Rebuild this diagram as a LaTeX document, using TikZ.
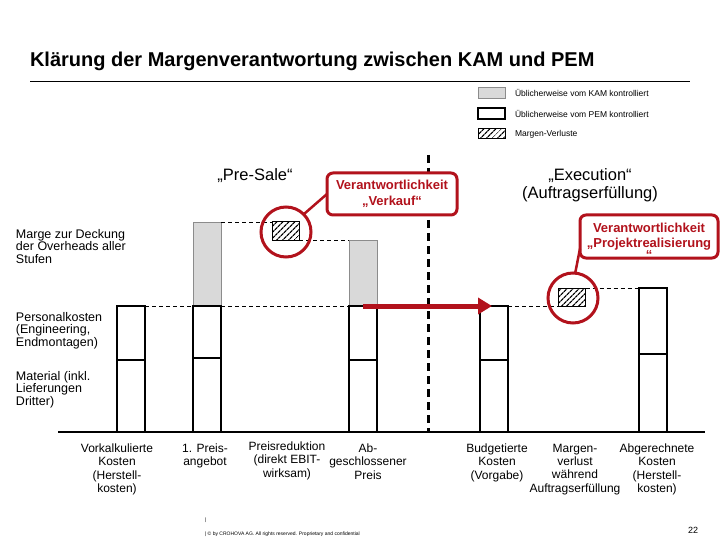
\documentclass[tikz,border=0pt]{standalone}
\usepackage{fontspec}
\setmainfont{Liberation Sans}
\usetikzlibrary{arrows.meta, patterns.meta, positioning}
\definecolor{VRed}{RGB}{178, 18, 28}
\definecolor{KAMGray}{RGB}{217, 217, 217}
\definecolor{KAMEdge}{RGB}{140, 140, 140}
\newcommand{\fsz}[2]{\fontsize{#1}{#2}\selectfont}

\begin{document}
\begin{tikzpicture}[
  x=1pt, y=-1pt,
  every node/.style={inner sep=0pt, outer sep=0pt, font=\fsz{12}{13.3}},
  pembar/.style={draw=black, line width=1.1pt, fill=white, minimum width=28pt, anchor=south west},
  kambar/.style={draw=KAMEdge, line width=0.8pt, fill=KAMGray, minimum width=28pt, anchor=south west},
  lossbox/.style={draw=black, line width=1pt, minimum width=27pt, minimum height=18pt,
                  pattern={Lines[angle=45, distance=4pt, line width=1.3pt]}},
  ring/.style={circle, draw=VRed, line width=3pt, minimum size=50pt},
  callout/.style={draw=VRed, line width=3pt, rounded corners=6pt, fill=white, text=VRed,
                  align=center, font=\fsz{13}{15.5}\bfseries},
  lbl/.style={align=center, anchor=north},
  side/.style={align=left, anchor=north west, font=\fsz{12.5}{12.8}},
  phase/.style={align=center, font=\fsz{16.5}{18.5}},
  legtext/.style={anchor=west, font=\fsz{8.5}{10}},
  dashlink/.style={draw=black, line width=0.8pt, dash pattern=on 4pt off 3pt},
  phaseline/.style={draw=black, line width=3pt, dash pattern=on 8pt off 5pt},
  calloutline/.style={draw=VRed, line width=2.5pt},
  bigarrow/.style={draw=VRed, line width=5pt, -{Triangle[length=14pt, width=16pt]}}
]
  \fill[white] (0,0) rectangle (720,540);
  \useasboundingbox (0,0) rectangle (720,540);

  %% Title and legend
  \node[anchor=base west, font=\fsz{20}{24}\bfseries] (title) at (30,67)
    {Klärung der Margenverantwortung zwischen KAM und PEM};
  \coordinate (ruleL) at (30,81);
  \coordinate (ruleR) at (690,81);
  \draw[line width=0.9pt] (ruleL) -- (ruleR);

  \node[kambar, anchor=center, minimum width=27pt, minimum height=11pt] (legKAM)  at (491.5,92.5) {};
  \node[pembar, anchor=center, minimum width=27pt, minimum height=11pt] (legPEM)  at (491.5,113.5) {};
  \node[lossbox, minimum height=10pt]                                  (legLoss) at (491.5,134) {};
  \node[legtext] (legKAMtxt)  at (515,93)  {Üblicherweise vom KAM kontrolliert};
  \node[legtext] (legPEMtxt)  at (515,114) {Üblicherweise vom PEM kontrolliert};
  \node[legtext] (legLosstxt) at (515,134) {Margen-Verluste};

  %% Phases
  \node[phase] (presale)   at (255,176) {„Pre-Sale“};
  \node[phase] (execution) at (590,185) {„Execution“\\(Auftragserfüllung)};
  \coordinate (phaseTop) at (428,155);
  \coordinate (phaseBot) at (428,432);
  \draw[phaseline] (phaseTop) -- (phaseBot);

  %% Bars (grey parts first)
  \node[kambar, minimum height=84pt] (paMarg) at (193,306) {};
  \node[kambar, minimum height=66pt] (apMarg) at (349,306) {};

  \node[pembar, minimum height=72pt] (vkMat)  at (117,432) {};
  \node[pembar, minimum height=54pt] (vkPers) at (117,360) {};
  \node[pembar, minimum height=74pt] (paMat)  at (193,432) {};
  \node[pembar, minimum height=52pt] (paPers) at (193,358) {};
  \node[pembar, minimum height=72pt] (apMat)  at (349,432) {};
  \node[pembar, minimum height=54pt] (apPers) at (349,360) {};
  \node[pembar, minimum height=72pt] (bkMat)  at (480,432) {};
  \node[pembar, minimum height=54pt] (bkPers) at (480,360) {};
  \node[pembar, minimum height=78pt] (akMat)  at (639,432) {};
  \node[pembar, minimum height=66pt] (akPers) at (639,354) {};

  \node[lossbox] (loss1) at (285.5,231) {};
  \node[lossbox] (loss2) at (572,297) {};

  \coordinate (axisL) at (58,432);
  \coordinate (axisR) at (705,432);
  \draw[line width=1.1pt] (axisL) -- (axisR);

  %% Dashed level lines
  \draw[dashlink] (vkPers.north east) -- (paPers.north west);
  \draw[dashlink] (paPers.north east) -- (apPers.north west);
  \draw[dashlink] (paMarg.north east) -- (loss1.north west);
  \draw[dashlink] (loss1.south east)  -- (apMarg.north west);
  \draw[dashlink] (bkPers.north east) -- (loss2.south west);
  \draw[dashlink] (loss2.north east)  -- (akPers.north west);

  %% Callouts
  \node[ring] (ring1) at (286,232) {};
  \node[ring] (ring2) at (573,298) {};
  \node[callout, minimum width=130pt, minimum height=42pt] (verkauf) at (392,194)
    {Verantwortlichkeit\\„Verkauf“};
  \node[callout, minimum width=138pt, minimum height=43pt,
        label={[text=VRed, font=\fsz{13}{14}\bfseries, label distance=-7pt]below:“}] (projekt) at (649,236.5)
    {Verantwortlichkeit\\„Projektrealisierung};
  \draw[calloutline] (ring1.45) -- (verkauf.west);
  \draw[calloutline] (ring2.85) -- (projekt.190);

  %% Arrow
  \draw[bigarrow] (apPers.north) -- ([xshift=12pt]bkPers.north west);

  %% Labels
  \node[side] (lmarge) at (16,229) {Marge zur Deckung\\der Overheads aller\\Stufen};
  \node[side] (lpers)  at (16,312) {Personalkosten\\(Engineering,\\Endmontagen)};
  \node[side] (lmat)   at (16,371) {Material (inkl.\\Lieferungen\\Dritter)};

  \node[lbl] (lvk) at (117,444) {Vorkalkulierte\\Kosten\\(Herstell-\\kosten)};
  \node[lbl] (lpa) at (205,444) {1. Preis-\\angebot};
  \node[lbl] (lpr) at (287,442) {Preisreduktion\\(direkt EBIT-\\wirksam)};
  \node[lbl] (lap) at (368,444) {Ab-\\geschlossener\\Preis};
  \node[lbl] (lbk) at (497,444) {Budgetierte\\Kosten\\(Vorgabe)};
  \node[lbl] (lmv) at (575,444) {Margen-\\verlust\\während\\Auftragserfüllung};
  \node[lbl] (lak) at (657,444) {Abgerechnete\\Kosten\\(Herstell-\\kosten)};

  %% Footer
  \node[anchor=base west, font=\fsz{5}{6}] (footbar)   at (205,521) {|};
  \node[anchor=base west, font=\fsz{5}{6}] (copyright) at (205,535)
    {| © by CROHOVA AG. All rights reserved. Proprietary and confidential};
  \node[font=\fsz{9}{10}] (pagenum) at (693,530) {22};
\end{tikzpicture}
\end{document}
